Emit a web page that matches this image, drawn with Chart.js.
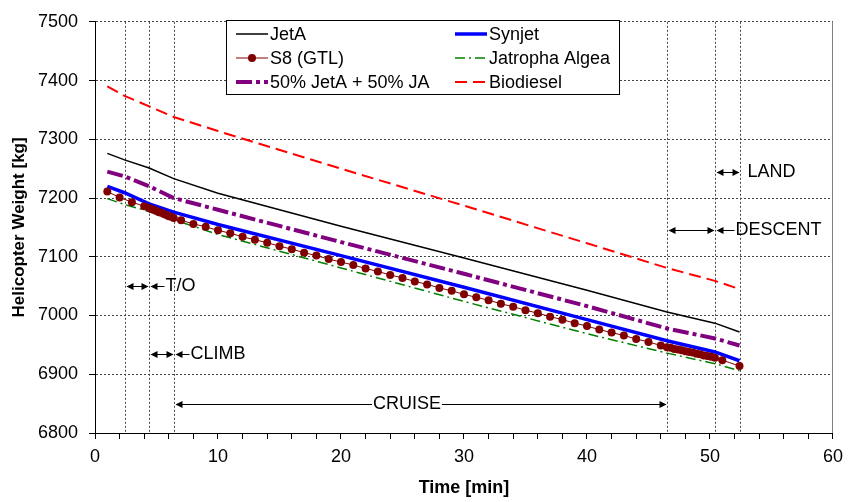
<!DOCTYPE html>
<html>
<head>
<meta charset="utf-8">
<title>Helicopter Weight vs Time</title>
<script src="https://cdn.jsdelivr.net/npm/chart.js@4.4.1/dist/chart.umd.min.js"></script>
<style>
  html, body { margin: 0; padding: 0; background: #fff; }
  #wrap { width: 850px; height: 502px; position: relative; }
</style>
</head>
<body>
<div id="wrap"><canvas id="weightChart"></canvas></div>
<script>
// --- DATOS ---
const lineTime  = [1, 2.4, 4.4, 6.4, 10, 20, 30, 40, 46.5, 50.4, 52.4];
const jetA      = [7276, 7265, 7251, 7233, 7208, 7152, 7098, 7043, 7006, 6987, 6972];
const synjet    = [7220, 7209, 7190, 7176, 7155, 7102, 7048, 6993, 6957, 6938, 6923];
const jatropha  = [7199, 7189, 7177, 7163, 7138, 7081, 7024, 6969, 6936, 6918, 6906];
const blend     = [7245, 7237, 7220, 7200, 7180, 7125, 7071, 7016, 6978, 6961, 6949];
const biodiesel = [7390, 7374, 7356, 7338, 7314, 7250, 7187, 7123, 7081, 7059, 7045];

const s8Time = [1, 2, 3, 4,
  4.4, 4.6, 4.8, 5.0, 5.2, 5.4, 5.6, 5.8, 6.0, 6.2, 6.4,
  7, 8, 9, 10, 11, 12, 13, 14, 15, 16, 17, 18, 19, 20, 21, 22, 23, 24, 25, 26,
  27, 28, 29, 30, 31, 32, 33, 34, 35, 36, 37, 38, 39, 40, 41, 42, 43, 44, 45, 46,
  46.5, 46.8, 47.1, 47.4, 47.7, 48.0, 48.3, 48.6, 48.9, 49.2, 49.5, 49.8, 50.1, 50.4,
  51, 52.4];
const s8 = [7211, 7201, 7193, 7186,
  7183, 7181, 7180, 7178, 7176, 7175, 7173, 7171, 7169, 7168, 7166,
  7162, 7156, 7151, 7145, 7140, 7134, 7129, 7124, 7118, 7113, 7107, 7102, 7096, 7091, 7086, 7080, 7075, 7069, 7064, 7058,
  7053, 7047, 7042, 7036, 7031, 7026, 7020, 7015, 7009, 7004, 6998, 6993, 6987, 6982, 6976, 6971, 6966, 6960, 6955, 6949,
  6946, 6945, 6943, 6942, 6941, 6939, 6938, 6937, 6935, 6934, 6932, 6931, 6930, 6928,
  6924, 6914];

const seriesNames = ['JetA', 'Synjet', 'S8 (GTL)', 'Jatropha Algea', '50% JetA + 50% JA', 'Biodiesel'];

// fases del vuelo
const phaseLines = [2.4, 4.4, 6.4, 46.5, 50.4, 52.4];
const phaseNames = ['T/O', 'CLIMB', 'CRUISE', 'DESCENT', 'LAND'];
const phaseStart = [2.4, 4.4, 6.4, 46.5, 50.4];
const phaseEnd   = [4.4, 6.4, 46.5, 50.4, 52.4];
const phaseLevel = [7050, 6935, 6850, 7145, 7245];

const FONT = "'Liberation Sans', Arial, Helvetica, sans-serif";
Chart.defaults.font.family = FONT;
Chart.defaults.color = '#000';

function toPoints(xs, ys) {
    return xs.map((x, i) => ({ x: x, y: ys[i] }));
}

function arrowHead(ctx, x, y, dir) {
    ctx.beginPath();
    ctx.moveTo(x, y);
    ctx.lineTo(x - dir * 7, y - 3.5);
    ctx.lineTo(x - dir * 7, y + 3.5);
    ctx.closePath();
    ctx.fill();
}

function hLine(ctx, x1, x2, y) {
    ctx.beginPath();
    ctx.moveTo(x1, y);
    ctx.lineTo(x2, y);
    ctx.stroke();
}

const phasePlugin = {
    id: 'phases',
    beforeDatasetsDraw(chart) {
        const { ctx, chartArea, scales: { x } } = chart;
        ctx.save();
        ctx.strokeStyle = '#444';
        ctx.lineWidth = 1;
        ctx.setLineDash([2, 2]);
        phaseLines.forEach(t => {
            const px = Math.round(x.getPixelForValue(t)) + 0.5;
            ctx.beginPath();
            ctx.moveTo(px, chartArea.top);
            ctx.lineTo(px, chartArea.bottom);
            ctx.stroke();
        });
        // borde derecho
        ctx.setLineDash([]);
        ctx.strokeStyle = '#808080';
        const rx = Math.round(chartArea.right) - 0.5;
        ctx.beginPath();
        ctx.moveTo(rx, chartArea.top);
        ctx.lineTo(rx, chartArea.bottom);
        ctx.stroke();
        ctx.restore();
    },
    afterDraw(chart) {
        const { ctx, scales: { x, y } } = chart;
        ctx.save();
        ctx.strokeStyle = '#000';
        ctx.fillStyle = '#000';
        ctx.lineWidth = 1;
        ctx.font = '18px ' + FONT;
        ctx.textBaseline = 'middle';
        phaseNames.forEach((name, i) => {
            const x1 = Math.round(x.getPixelForValue(phaseStart[i])) + 0.5;
            const x2 = Math.round(x.getPixelForValue(phaseEnd[i])) + 0.5;
            const py = Math.round(y.getPixelForValue(phaseLevel[i])) + 0.5;
            if (name === 'CRUISE') {
                const w = ctx.measureText(name).width;
                const cx = (x1 + x2) / 2 - 14;
                hLine(ctx, x1 + 2, cx - w / 2 - 1, py);
                hLine(ctx, cx + w / 2 + 1, x2 - 2, py);
                arrowHead(ctx, x1 + 1, py, -1);
                arrowHead(ctx, x2 - 1, py, 1);
                ctx.textAlign = 'center';
                ctx.fillText(name, cx, py);
                return;
            }
            hLine(ctx, x1 + 2, x2 - 2, py);
            arrowHead(ctx, x1 + 1, py, -1);
            arrowHead(ctx, x2 - 1, py, 1);
            ctx.textAlign = 'left';
            if (name === 'LAND') {
                ctx.fillText(name, x2 + 7, py);
            } else {
                const gap = name === 'DESCENT' ? 20 : 16;
                hLine(ctx, x2 + 2, x2 + gap - 1, py);
                arrowHead(ctx, x2 + 1, py, -1);
                ctx.fillText(name, x2 + gap, py);
            }
        });
        ctx.restore();

        // leyenda
        const box = { left: 226, top: 20, right: 620, bottom: 95 };
        ctx.save();
        ctx.fillStyle = '#fff';
        ctx.fillRect(box.left, box.top, box.right - box.left, box.bottom - box.top);
        ctx.strokeStyle = '#000';
        ctx.lineWidth = 1;
        ctx.strokeRect(box.left + 0.5, box.top + 0.5, box.right - box.left - 1, box.bottom - box.top - 1);
        ctx.font = '18px ' + FONT;
        ctx.textBaseline = 'middle';
        ctx.textAlign = 'left';
        const colX = [236, 455];
        const rowY = [34, 58, 82];
        chart.data.datasets.forEach((ds, i) => {
            const lx = colX[i % 2];
            const ly = rowY[Math.floor(i / 2)];
            ctx.strokeStyle = ds.borderColor;
            ctx.lineWidth = ds.borderWidth;
            ctx.setLineDash(ds.borderDash || []);
            ctx.beginPath();
            ctx.moveTo(lx, ly);
            ctx.lineTo(lx + 32, ly);
            ctx.stroke();
            ctx.setLineDash([]);
            if (ds.pointRadius > 0) {
                ctx.fillStyle = ds.pointBackgroundColor;
                ctx.beginPath();
                ctx.arc(lx + 16, ly, ds.pointRadius, 0, Math.PI * 2);
                ctx.fill();
            }
            ctx.fillStyle = '#000';
            ctx.fillText(ds.label, lx + 34, ly + 1);
        });
        ctx.restore();
    }
};

function lineDataset(label, ys, color, width, dash, order) {
    return {
        label: label,
        data: toPoints(lineTime, ys),
        borderColor: color,
        backgroundColor: color,
        borderWidth: width,
        borderDash: dash,
        pointRadius: 0,
        tension: 0,
        fill: false,
        order: order
    };
}

const ctx = document.getElementById('weightChart').getContext('2d');
new Chart(ctx, {
    type: 'line',
    data: {
        datasets: [
            lineDataset(seriesNames[0], jetA, '#000000', 1.5, [], 3),
            lineDataset(seriesNames[1], synjet, '#0000ff', 3.5, [], 2),
            {
                label: seriesNames[2],
                data: toPoints(s8Time, s8),
                borderColor: '#800000',
                backgroundColor: '#800000',
                borderWidth: 1,
                borderDash: [],
                pointRadius: 4,
                pointHoverRadius: 4,
                pointBackgroundColor: '#800000',
                pointBorderColor: '#800000',
                pointBorderWidth: 0,
                tension: 0,
                fill: false,
                order: 0
            },
            lineDataset(seriesNames[3], jatropha, '#008000', 1.5, [10, 4, 2, 4], 1),
            lineDataset(seriesNames[4], blend, '#800080', 4, [16, 4, 4, 4], 4),
            lineDataset(seriesNames[5], biodiesel, '#ff0000', 2, [12, 6], 5)
        ]
    },
    options: {
        responsive: true,
        maintainAspectRatio: false,
        animation: false,
        layout: { padding: { left: 0, right: 14, top: 14, bottom: 0 } },
        plugins: {
            legend: { display: false },
            tooltip: { enabled: false }
        },
        scales: {
            x: {
                type: 'linear',
                min: 0,
                max: 60,
                ticks: {
                    stepSize: 2,
                    autoSkip: false,
                    maxRotation: 0,
                    color: '#000',
                    font: { size: 18 },
                    padding: 7,
                    callback: v => (v % 10 === 0 ? String(v) : '')
                },
                grid: { drawOnChartArea: false, drawTicks: true, tickLength: 6, tickColor: '#000' },
                border: { color: '#000', width: 1 },
                title: {
                    display: true,
                    text: 'Time [min]',
                    color: '#000',
                    font: { size: 18, weight: 'bold' },
                    padding: { top: 0, bottom: 3 }
                },
                afterFit: scale => { scale.height = 69; }
            },
            y: {
                min: 6800,
                max: 7500,
                ticks: {
                    stepSize: 100,
                    color: '#000',
                    font: { size: 18 },
                    padding: 11,
                    callback: v => String(v)
                },
                grid: { color: '#444', lineWidth: 1, tickLength: 6, tickColor: '#000' },
                border: { color: '#000', width: 1, dash: [2, 2] },
                title: {
                    display: true,
                    text: 'Helicopter Weight [kg]',
                    color: '#000',
                    font: { size: 17, weight: 'bold' },
                    padding: { top: 9, bottom: 0 }
                },
                afterFit: scale => { scale.width = 95; }
            }
        }
    },
    plugins: [phasePlugin]
});
</script>
</body>
</html>
